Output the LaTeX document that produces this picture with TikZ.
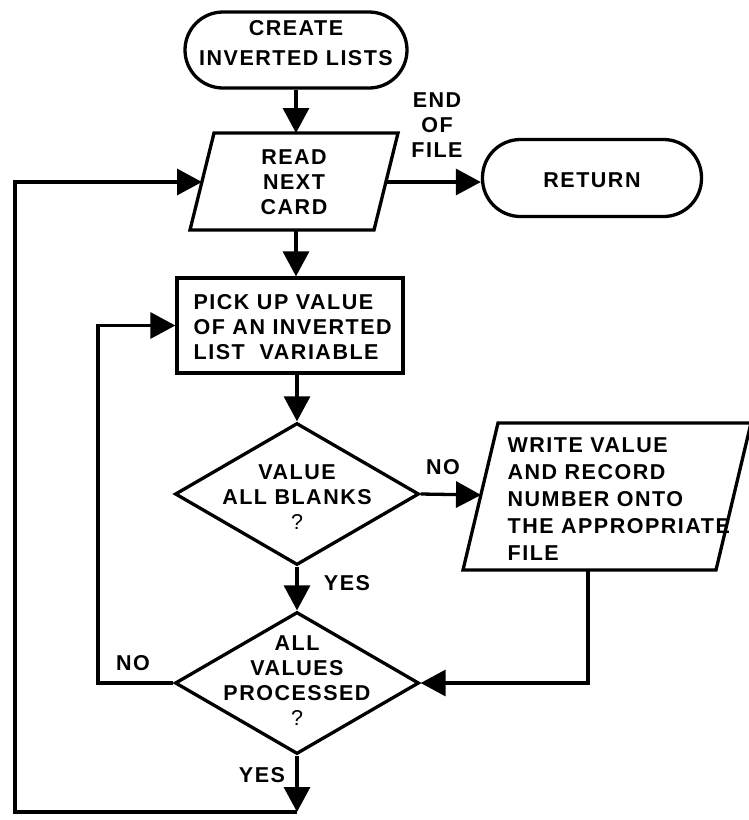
\documentclass[tikz,border=0pt]{standalone}
\usepackage{fontspec}
\setmainfont{Liberation Sans}[LetterSpace=7]
\usetikzlibrary{arrows.meta,shapes.geometric}

\begin{document}
\begin{tikzpicture}[x=1pt,y=-1pt,
  line width=3.3pt,
  flow/.style={-{Triangle[length=25pt,width=26pt]}},
  lbl/.style={font=\fontsize{21.5}{25}\selectfont\bfseries, inner sep=0pt},
  term/.style={draw, rounded corners=38pt, minimum width=222pt,
               minimum height=76pt, inner sep=0pt},
  decision/.style={draw, diamond, minimum width=244pt, minimum height=142pt,
                   inner sep=0pt},
]
\useasboundingbox (0,0) rectangle (748,820);

% terminals
\node[term] (start) at (296,50) {};
\node[lbl, align=center, font=\fontsize{21.5}{30}\selectfont\bfseries] (start-t) at (296,43) {CREATE\\INVERTED LISTS};
\node[term, minimum width=219pt, minimum height=77pt] (ret) at (592,178) {};
\node[lbl] (ret-t) at (592,180) {RETURN};

% read card (input/output parallelogram)
\coordinate (r1) at (214,133);
\coordinate (r2) at (398,133);
\coordinate (r3) at (374,230);
\coordinate (r4) at (190,230);
\draw (r1) -- (r2) -- (r3) -- (r4) -- cycle;
\node[lbl, align=center] (read) at (294,182) {READ\\NEXT\\CARD};
\coordinate (read-n) at (296,133);
\coordinate (read-s) at (296,230);
\coordinate (read-w) at (202,182);
\coordinate (read-e) at (386,182);

% pick up value
\node[draw, minimum width=226pt, minimum height=95pt, inner sep=0pt] (pick) at (290,325.5) {};
\node[lbl, align=left, anchor=west] (pick-t) at (192,327) {PICK UP VALUE\\OF AN INVERTED\\LIST\ \ VARIABLE};

% decisions
\node[decision] (d1) at (297,494) {};
\node[lbl, align=center] (d1-t) at (297,497) {VALUE\\ALL BLANKS\\{\mdseries ?}};
\node[decision] (d2) at (297,683) {};
\node[lbl, align=center] (d2-t) at (297,681) {ALL\\VALUES\\PROCESSED\\{\mdseries ?}};

% write parallelogram
\coordinate (w1) at (498,423);
\coordinate (w2) at (751,423);
\coordinate (w3) at (716,570);
\coordinate (w4) at (463,570);
\draw (w1) -- (w2) -- (w3) -- (w4) -- cycle;
\node[lbl, align=left, anchor=west, font=\fontsize{21.5}{27}\selectfont\bfseries] (write) at (506,499) {WRITE VALUE\\AND RECORD\\NUMBER ONTO\\THE APPROPRIATE\\FILE};
\coordinate (write-w) at (481,495);
\coordinate (write-s) at (588,570);

% connectors
\draw[flow] (start) -- (read-n);
\draw[flow] (read-e) -- (read-e -| ret.west);
\node[lbl, align=center] (eof) at (437,125) {END\\OF\\FILE};
\draw[flow] (read-s) -- (read-s |- pick.north);
\draw[flow] (pick.south -| d1.north) -- (d1.north);
\draw[flow] (d1.east) -- (write-w);
\node[lbl] (no1) at (443,467) {NO};
\draw[flow] (d1.south) -- (d2.north);
\node[lbl] (yes1) at (347,583) {YES};
\draw[flow] (write-s) |- (d2.east);
\coordinate (loopA) at (98,325.5);
\draw[flow] (d2.west) -| (loopA) -- (pick.west);
\node[lbl] (no2) at (133,663) {NO};
\coordinate (bot) at (297,812);
\draw[flow] (d2.south) -- (bot);
\node[lbl] (yes2) at (262,775) {YES};
\coordinate (outer) at (15,812);
\draw[flow] (bot) -- (outer) |- (read-w);
\end{tikzpicture}
\end{document}
